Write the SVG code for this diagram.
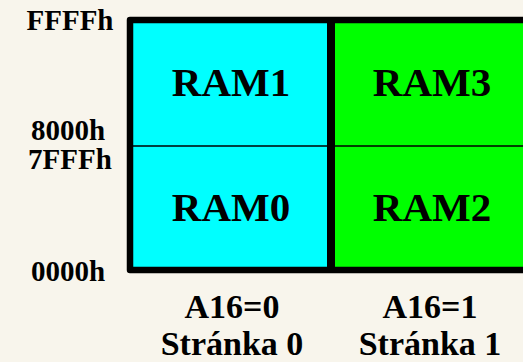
<svg xmlns="http://www.w3.org/2000/svg" width="523" height="362" viewBox="0 0 523 362">
  <style>
    text { font-family: "Liberation Serif", "Times New Roman", serif; font-weight: bold; fill: #000; text-anchor: middle; }
    .addr { font-size: 29px; }
    .bank { font-size: 41px; }
    .page { font-size: 34px; }
    .frame { fill: none; stroke: #000; stroke-width: 6.5; stroke-linejoin: round; }
  </style>
  <rect width="523" height="362" fill="#F8F5EC"/>

  <!-- address labels -->
  <g id="addresses">
    <text class="addr" x="70" y="30">FFFFh</text>
    <text class="addr" x="68" y="140">8000h</text>
    <text class="addr" x="70" y="169">7FFFh</text>
    <text class="addr" x="68" y="281">0000h</text>
  </g>

  <!-- page 0 -->
  <g id="page0">
    <rect x="130" y="20" width="201" height="250" fill="#00FFFF"/>
    <g id="ram1"><text class="bank" x="231" y="96">RAM1</text></g>
    <g id="ram0"><text class="bank" x="231" y="221">RAM0</text></g>
  </g>

  <!-- page 1 -->
  <g id="page1">
    <rect x="331" y="20" width="210" height="250" fill="#00FF00"/>
    <g id="ram3"><text class="bank" x="432" y="96">RAM3</text></g>
    <g id="ram2"><text class="bank" x="432" y="221">RAM2</text></g>
  </g>

  <!-- frame and dividers -->
  <g id="connectors">
    <line x1="133" y1="146" x2="523" y2="146" stroke="#000" stroke-width="1.5"/>
    <line x1="331" y1="20" x2="331" y2="270" stroke="#000" stroke-width="8"/>
    <rect class="frame" x="130" y="20" width="420" height="250"/>
  </g>

  <!-- page labels -->
  <g id="labels">
    <text class="page" x="232" y="318">A16=0</text>
    <text class="page" x="232" y="355">Stránka 0</text>
    <text class="page" x="430" y="318">A16=1</text>
    <text class="page" x="430" y="355">Stránka 1</text>
  </g>
</svg>
